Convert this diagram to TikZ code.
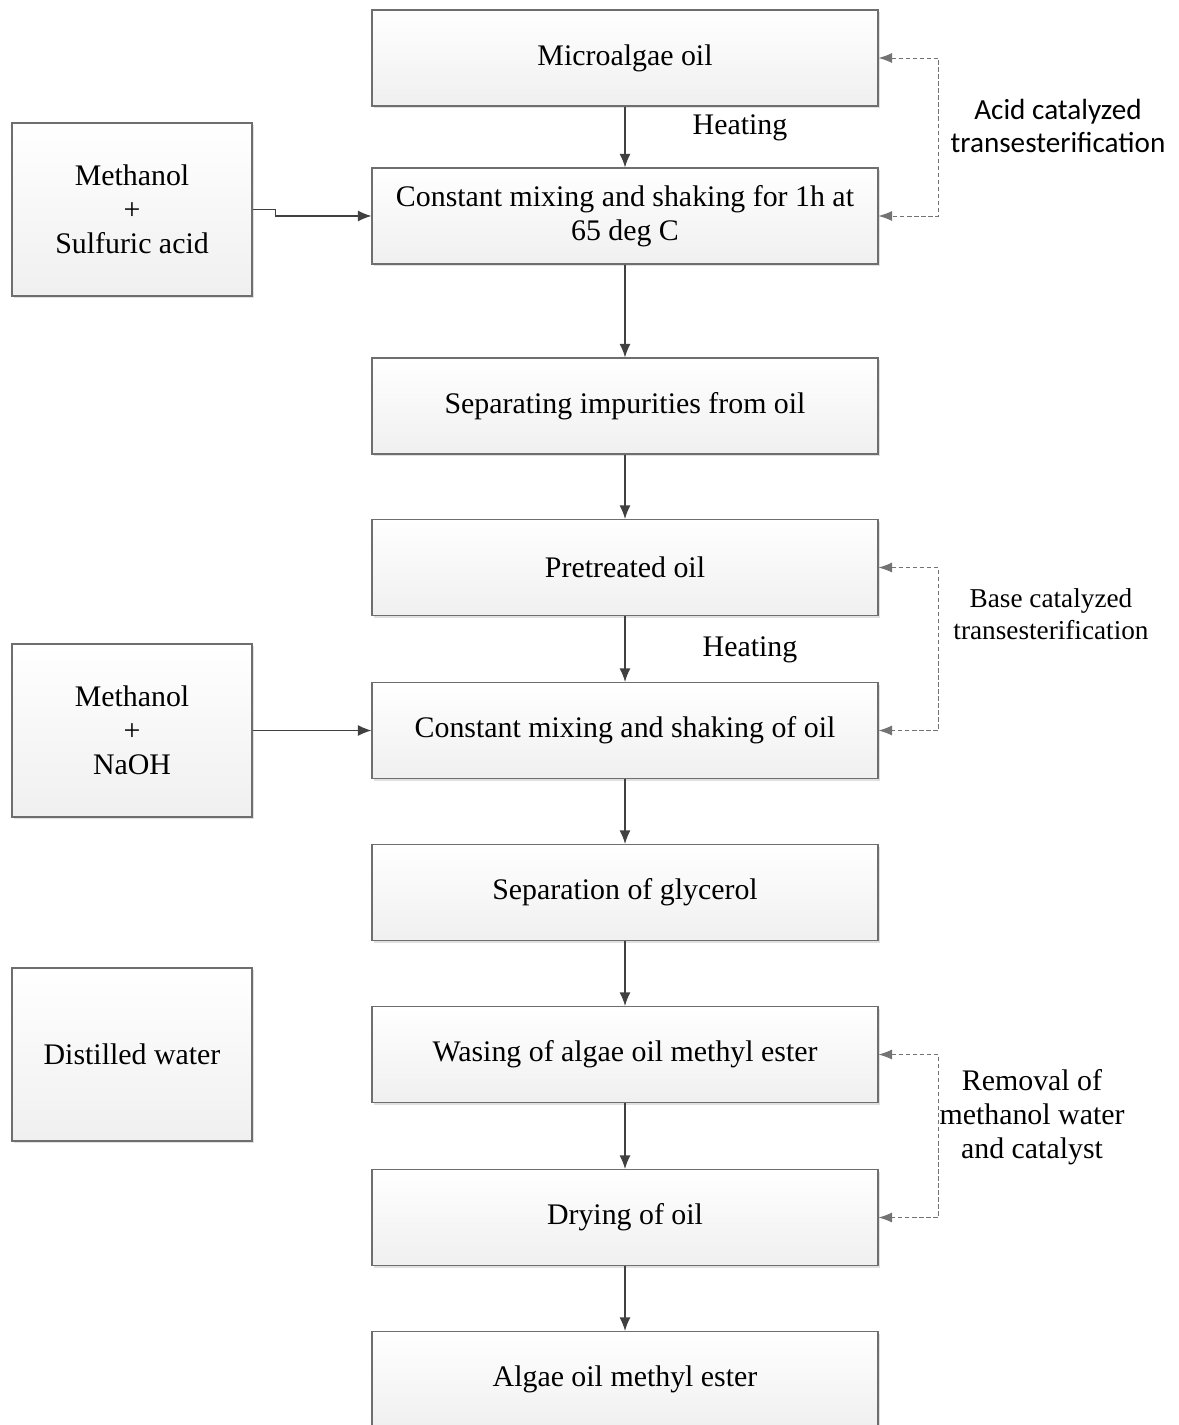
\documentclass[tikz,border=0pt]{standalone}
\usepackage{fontspec}
\setmainfont{Liberation Serif}
\newfontfamily\calibri{Carlito}
\usetikzlibrary{shapes,arrows.meta,shadows}
\definecolor{linegray}{HTML}{404040}
\definecolor{boxgray}{HTML}{6E6E6E}

\begin{document}
\begin{tikzpicture}
		\tikzstyle {step box} = [draw=boxgray, line width=0.6pt, top color=white, bottom color=black!6,
			drop shadow={shadow xshift=1.2pt, shadow yshift=-1.2pt, fill=black!12, opacity=1},
			align=center, font=\fontsize{17}{19.3}\selectfont, inner sep=2pt]
		\tikzstyle {main box} = [step box, minimum width=10.12cm, minimum height=1.92cm]
		\tikzstyle {side box} = [step box, minimum width=4.8cm, minimum height=3.46cm]
		\tikzstyle {flow line} = [-{Latex[length=0.27cm,width=0.22cm]}, draw=linegray, line width=0.8pt]
		\tikzstyle {loop line} = [{Latex[length=0.27cm,width=0.2cm]}-{Latex[length=0.27cm,width=0.2cm]},
			draw=black!55, line width=0.5pt, dash pattern=on 2.5pt off 1.5pt]

		\useasboundingbox (0,0) rectangle (23.56,-28.5);

		% main column
		\node[main box] (micro) at (12.5, -1.16) {Microalgae oil};
		\node[main box] (mixacid) at (12.5, -4.32) {Constant mixing and shaking for 1h at\\65 deg C};
		\node[main box] (impure) at (12.5, -8.12) {Separating impurities from oil};
		\node[main box] (pretreat) at (12.5, -11.35) {Pretreated oil};
		\node[main box] (mixbase) at (12.5, -14.61) {Constant mixing and shaking of oil};
		\node[main box] (glycerol) at (12.5, -17.85) {Separation of glycerol};
		\node[main box] (washing) at (12.5, -21.09) {Wasing of algae oil methyl ester};
		\node[main box] (drying) at (12.5, -24.35) {Drying of oil};
		\node[main box] (ester) at (12.5, -27.59) {Algae oil methyl ester};

		% inputs
		\node[side box] (acid) at (2.64, -4.19) {Methanol\\+\\Sulfuric acid};
		\node[side box] (naoh) at (2.64, -14.61) {Methanol\\+\\NaOH};
		\node[side box] (water) at (2.64, -21.09) {Distilled water};

		\draw[flow line] (micro) -- (mixacid);
		\draw[flow line] (mixacid) -- (impure);
		\draw[flow line] (impure) -- (pretreat);
		\draw[flow line] (pretreat) -- (mixbase);
		\draw[flow line] (mixbase) -- (glycerol);
		\draw[flow line] (glycerol) -- (washing);
		\draw[flow line] (washing) -- (drying);
		\draw[flow line] (drying) -- (ester);

		\draw[flow line] (acid.east) -- ([xshift=0.46cm]acid.east) |- (mixacid.west);
		\draw[flow line] (naoh) -- (mixbase);

		\node[font=\fontsize{17}{19}\selectfont] (heatacid) at (14.8, -2.55) {Heating};
		\node[font=\fontsize{17}{19}\selectfont] (heatbase) at (15.0, -12.99) {Heating};

		% stage brackets
		\draw[loop line] (micro.east) -- ++(1.2,0) |- (mixacid.east);
		\draw[loop line] (pretreat.east) -- ++(1.2,0) |- (mixbase.east);
		\draw[loop line] (washing.east) -- ++(1.2,0) |- (drying.east);

		\node[align=center, font=\calibri\fontsize{16.6}{18.8}\selectfont] (acidlabel) at (21.16, -2.52) {Acid catalyzed\\transesterification};
		\node[align=center, font=\fontsize{15.5}{18.2}\selectfont] (baselabel) at (21.02, -12.29) {Base catalyzed\\transesterification};
		\node[align=center, font=\fontsize{17}{19.3}\selectfont] (removal) at (20.64, -22.35) {Removal of\\methanol water\\and catalyst};
\end{tikzpicture}
\end{document}
